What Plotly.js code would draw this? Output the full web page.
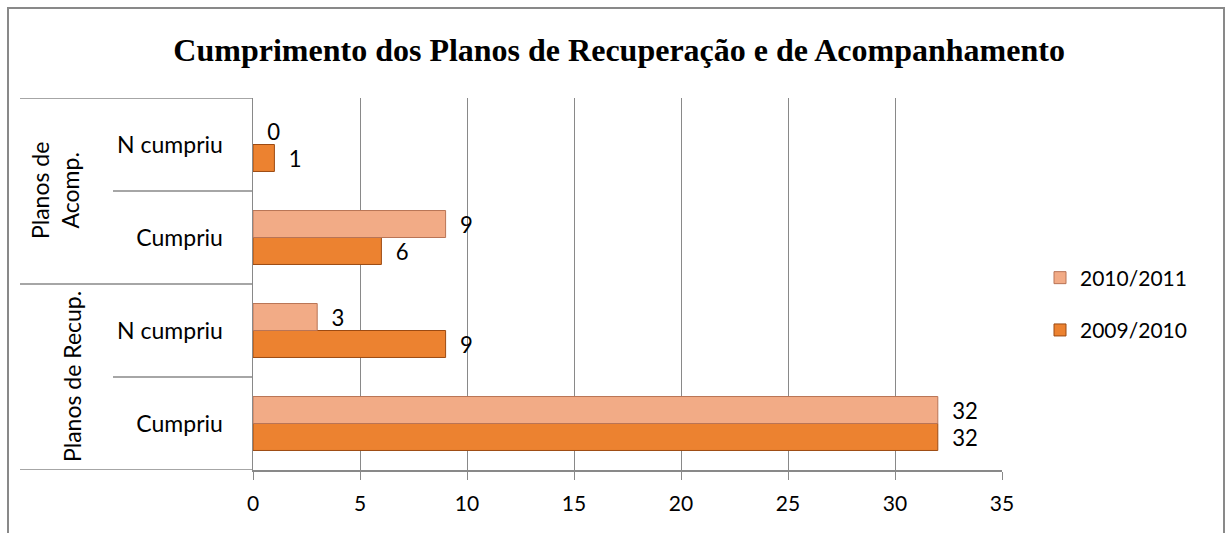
<!DOCTYPE html>
<html>
<head>
<meta charset="utf-8">
<script src="https://cdn.plot.ly/plotly-3.0.1.min.js"></script>
<style>
html,body{margin:0;padding:0;background:#fff;}
#chart{width:1226px;height:533px;}
</style>
</head>
<body>
<div id="chart"></div>
<script>
// ---- data (bottom to top, as drawn) ----
const groups = ["Planos de Recup.", "Planos de Recup.", "Planos de<br>Acomp.", "Planos de<br>Acomp."];
const subcats = ["Cumpriu", "N cumpriu", "Cumpriu", "N cumpriu"];
const series0Name = "2009/2010";
const series0 = [32, 9, 6, 1];
const series1Name = "2010/2011";
const series1 = [32, 3, 9, 0];
const xTicks = [0, 5, 10, 15, 20, 25, 30, 35];

// ---- layout helpers (pixel geometry of the reference) ----
const W = 1226, H = 533;
const L = 253, R = 1002, T = 98, B = 470;
const px = p => (p - L) / (R - L);
const py = p => (B - p) / (B - T);

const pos = subcats.map((_, i) => i);
const grey = "#898989";
const nb = "\u00a0\u00a0";

const traces = [
  {
    type: "bar", orientation: "h", name: series0Name, legendgroup: "s0", legendrank: 2,
    y: pos, x: series0,
    marker: {color: "#EC8230", line: {color: "#9C4A12", width: series0.map(v => v > 0 ? 1 : 0)}},
    text: series0.map(v => nb + v), textposition: "outside",
    textfont: {family: "Lato, sans-serif", size: 23, color: "#000"},
    cliponaxis: false, hoverinfo: "x+name"
  },
  {
    type: "bar", orientation: "h", name: series1Name, legendgroup: "s1", legendrank: 1,
    y: pos, x: series1,
    marker: {color: "#F2AB86", line: {color: "#B97456", width: series1.map(v => v > 0 ? 1 : 0)}},
    text: series1.map(v => nb + v), textposition: "outside",
    textfont: {family: "Lato, sans-serif", size: 23, color: "#000"},
    cliponaxis: false, hoverinfo: "x+name"
  }
];

// frame lines on the left (category boundaries)
const shapes = [];
// outer chart border
shapes.push({type: "rect", xref: "paper", yref: "paper",
  x0: px(8), x1: px(1224), y0: py(534), y1: py(8),
  line: {color: grey, width: 2}, layer: "below"});
for (let i = 0; i <= subcats.length; i++) {
  const yb = i - 0.5;
  const isGroupEdge = (i === 0 || i === subcats.length || groups[i] !== groups[i - 1]);
  shapes.push({type: "line", xref: "paper", yref: "y",
    x0: isGroupEdge ? px(20) : px(113), x1: 0, y0: yb, y1: yb,
    line: {color: grey, width: 1.5}});
}

// group labels (rotated)
const annotations = [];
const seen = {};
groups.forEach((g, i) => {
  if (seen[g] !== undefined) return;
  const idx = groups.reduce((a, gg, j) => gg === g ? a.concat(j) : a, []);
  const mid = (idx[0] + idx[idx.length - 1]) / 2;
  seen[g] = mid;
  const twoLines = g.indexOf("<br>") >= 0;
  annotations.push({
    xref: "paper", yref: "y", x: twoLines ? px(55) : px(72), y: mid,
    text: g, showarrow: false, textangle: -90,
    font: {family: "Lato, sans-serif", size: 23, color: "#000"},
    xanchor: "center", yanchor: "middle"
  });
});

const layout = {
  width: W, height: H,
  paper_bgcolor: "#fff", plot_bgcolor: "#fff",
  margin: {l: L, r: W - R, t: T, b: H - B, pad: 0},
  title: {
    text: "<b>Cumprimento dos Planos de Recuperação e de Acompanhamento</b>",
    font: {family: "Liberation Serif, Times New Roman, serif", size: 32, color: "#000"},
    x: 0.505, xanchor: "center", y: 1 - 50 / H, yanchor: "middle"
  },
  barmode: "group", bargap: 0.42, bargroupgap: 0,
  xaxis: {
    range: [0, 35], tickvals: xTicks, ticktext: xTicks.map(String),
    showgrid: true, gridcolor: grey, gridwidth: 1,
    zeroline: false, showline: true, linecolor: grey, linewidth: 1.5,
    ticks: "outside", ticklen: 8, tickcolor: grey, tickwidth: 1,
    ticklabelstandoff: 6,
    tickfont: {family: "Lato, sans-serif", size: 21, color: "#000"},
    fixedrange: true
  },
  yaxis: {
    range: [-0.5, subcats.length - 0.5], tickvals: pos, ticktext: subcats,
    showgrid: false, zeroline: false, showline: true, linecolor: grey, linewidth: 1.5,
    ticks: "", ticklabelstandoff: 24,
    tickfont: {family: "Lato, sans-serif", size: 23, color: "#000"},
    fixedrange: true
  },
  legend: {
    x: px(1040), xanchor: "left", y: py(304), yanchor: "middle",
    traceorder: "grouped", tracegroupgap: 22,
    font: {family: "Lato, sans-serif", size: 21, color: "#000"},
    bgcolor: "rgba(0,0,0,0)"
  },
  shapes: shapes,
  annotations: annotations,
  showlegend: true
};

Plotly.newPlot("chart", traces, layout, {displayModeBar: false, staticPlot: true});
</script>
</body>
</html>
